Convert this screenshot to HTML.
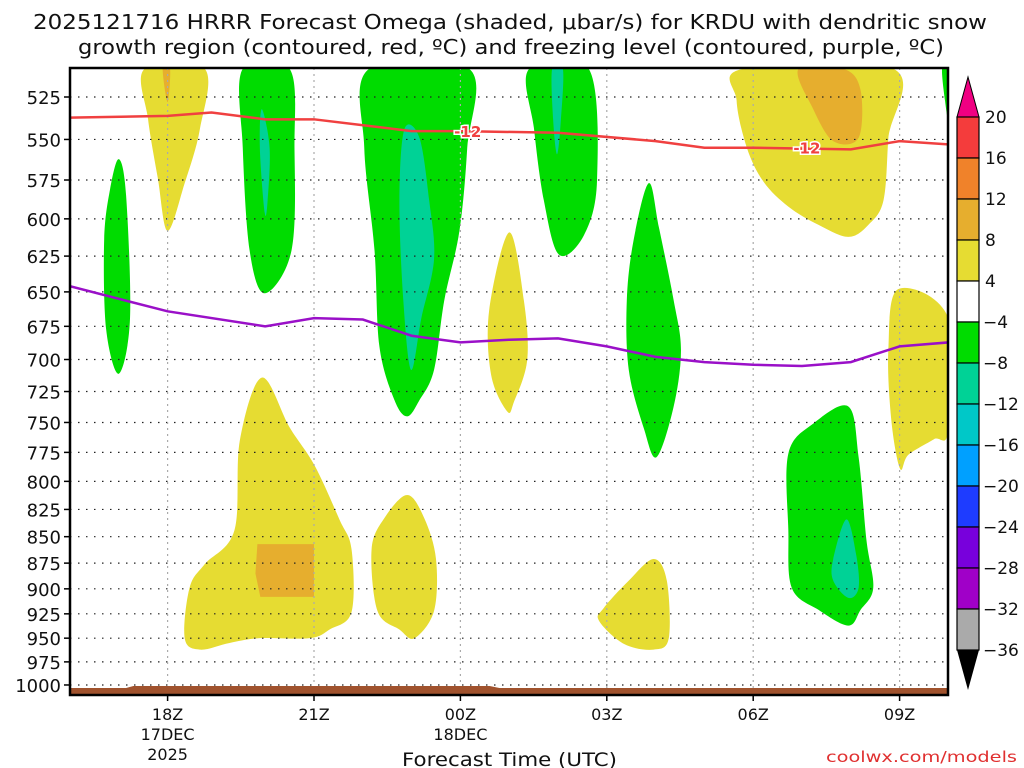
<!DOCTYPE html>
<html><head><meta charset="utf-8"><style>
html,body{margin:0;padding:0;background:#fff;}
svg{display:block;font-family:"DejaVu Sans","Liberation Sans",sans-serif;}
</style></head><body>
<svg id="chart" width="1024" height="768" viewBox="0 0 1024 768" xmlns="http://www.w3.org/2000/svg">
<rect width="1024" height="768" fill="#fff"/>
<text x="33" y="29" font-size="20" textLength="954" lengthAdjust="spacingAndGlyphs" fill="#111">2025121716 HRRR Forecast Omega (shaded, μbar/s) for KRDU with dendritic snow</text>
<text x="78" y="54" font-size="20" textLength="866" lengthAdjust="spacingAndGlyphs" fill="#111">growth region (contoured, red, ºC) and freezing level (contoured, purple, ºC)</text>
<g id="fills"></g>
<g id="grid"></g>
<g id="lines"></g>
<g id="axes"></g>
<g id="cbar"></g>
<text x="402" y="766" font-size="19" textLength="215" lengthAdjust="spacingAndGlyphs" fill="#111">Forecast Time (UTC)</text>
<text x="826" y="762" font-size="15" textLength="191" lengthAdjust="spacingAndGlyphs" fill="#e03030">coolwx.com/models</text>
</svg>
<script>
// ---- data ----
const pressureTicks = [525,550,575,600,625,650,675,700,725,750,775,800,825,850,875,900,925,950,975,1000];
const timeTickHours = [2,5,8,11,14,17];
const timeTickLabels = [["18Z","17DEC","2025"],["21Z"],["00Z","18DEC"],["03Z"],["06Z"],["09Z"]];
const freezeHours = [0,2,4,5,6,7,8,9,10,11,12,13,14,15,16,17,18];
const freezeP = [646,664,675,669,670,682,687,685,684,690,698,702,704,705,702,690,687];
const dgzHours = [0,2,2.9,4,5,7,8,10,12,13,14,16,17,18];
const dgzP = [537,536,534,538,538,545,545,546,551,555,555,556,551,553];
const cbLevels = [20,16,12,8,4,-4,-8,-12,-16,-20,-24,-28,-32,-36];
const cbColors = ["#f43c3c","#f0822a","#e6ae2e","#e6dc32","#ffffff","#00dc00","#00d296","#00c8c8","#00a0ff","#1e3cff","#7800dc","#a000c8","#aaaaaa"];
// shaded regions: [[hour, hPa], ...]
const yellowBlobs = [
 [[1.53,509],[2.76,509],[2.66,544],[2.35,577],[2.0,608],[1.8,574],[1.6,538]],
 [[13.8,509],[16.87,509],[16.77,549],[16.67,588],[16.36,604],[15.95,612],[15.34,604],[14.72,592],[14.21,576],[13.87,555],[13.66,527]],
 [[9.0,609],[9.3,656],[9.37,700],[9.1,733],[8.96,741],[8.63,712],[8.59,663]],
 [[16.97,648],[18,669],[18,756],[17.7,764],[17.18,777],[17.01,789],[16.83,748],[16.77,692]],
 [[3.93,714],[4.5,754],[5.01,786],[5.52,834],[5.77,862],[5.77,923],[5.32,941],[4.91,950],[3.89,950],[3.27,955],[2.66,962],[2.35,950],[2.45,899],[2.76,876],[3.37,844],[3.48,765]],
 [[6.91,812],[7.26,833],[7.5,871],[7.46,922],[7.06,950],[6.75,941],[6.3,922],[6.18,862],[6.44,833]],
 [[11.96,871],[12.23,892],[12.27,950],[11.96,962],[11.35,956],[10.84,932],[10.94,919],[11.45,892]]
];
const orangeBlobs = [
 [[1.9,509],[2.05,509],[2.0,528]],
 [[14.93,509],[15.85,509],[16.2,521],[16.16,549],[15.64,551],[15.23,532]]
];
const orangeBoxes = [
 [[3.84,857],[5.0,857],[5.0,908],[3.9,908],[3.8,885]]
];
const greenBlobs = [
 [[0.7,614],[0.82,581],[1.0,562],[1.15,585],[1.23,669],[1.0,711],[0.74,677]],
 [[3.54,509],[4.5,509],[4.6,555],[4.54,621],[3.99,651],[3.68,621],[3.54,555]],
 [[6.13,509],[8.18,509],[8.14,555],[7.98,608],[7.67,656],[7.46,708],[7.16,732],[6.91,745],[6.65,732],[6.34,690],[6.24,621],[6.03,555]],
 [[9.41,509],[10.63,509],[10.8,575],[10.53,611],[10.02,624],[9.71,588],[9.51,544]],
 [[17.87,509],[18,509],[18,537],[17.93,527]],
 [[11.86,577],[12.07,606],[12.37,656],[12.52,693],[12.37,737],[12.02,779],[11.76,755],[11.45,708],[11.41,656],[11.55,614]],
 [[14.72,776],[15.23,751],[15.95,737],[16.16,779],[16.32,853],[16.46,899],[16.2,921],[15.95,937],[15.34,921],[14.79,899],[14.72,844]]
];
const tealBlobs = [
 [[3.93,532],[4.09,555],[4.05,588],[3.99,596],[3.89,555]],
 [[6.85,544],[7.16,549],[7.36,588],[7.46,627],[7.2,669],[6.99,708],[6.83,656],[6.75,588]],
 [[9.88,509],[10.1,509],[10.06,538],[9.98,559],[9.9,538]],
 [[15.91,834],[16.11,867],[16.16,899],[15.95,909],[15.64,892],[15.64,871]]
];
// ---- axes ----
const X0=70, X1=948, Y0=68, YB=695;
const xs = h => X0 + h*48.8;
const ys = p => 97 + Math.log(p/525)*912.5;
const NS="http://www.w3.org/2000/svg";
function mk(tag, parent, attrs){const e=document.createElementNS(NS,tag);for(const k in attrs)e.setAttribute(k,attrs[k]);parent.appendChild(e);return e;}
function smoothPath(pts){
  const P=pts.map(([h,p])=>[xs(h),ys(p)]);const n=P.length;let d=`M${P[0][0]},${P[0][1]}`;
  for(let i=0;i<n;i++){const p0=P[(i-1+n)%n],p1=P[i],p2=P[(i+1)%n],p3=P[(i+2)%n];
    const c1=[p1[0]+(p2[0]-p0[0])/6,p1[1]+(p2[1]-p0[1])/6],c2=[p2[0]-(p3[0]-p1[0])/6,p2[1]-(p3[1]-p1[1])/6];
    d+=` C${c1[0]},${c1[1]} ${c2[0]},${c2[1]} ${p2[0]},${p2[1]}`;}
  return d+"Z";
}
function polyPath(pts){return pts.map(([h,p],i)=>(i?"L":"M")+xs(h)+","+ys(p)).join(" ")+"Z";}
const svg=document.getElementById('chart');
const defs=mk('defs',svg,{});
const cp=mk('clipPath',defs,{id:'plotclip'});
mk('rect',cp,{x:X0,y:Y0,width:X1-X0,height:YB-Y0});
const fills=document.getElementById('fills');fills.setAttribute('clip-path','url(#plotclip)');
[[yellowBlobs,"#e6dc32","yellow-region",smoothPath],[orangeBlobs,"#e6ae2e","orange-region",smoothPath],[orangeBoxes,"#e6ae2e","orange-region",polyPath],[greenBlobs,"#00dc00","green-region",smoothPath],[tealBlobs,"#00d296","teal-region",smoothPath]].forEach(([set,col,nm,fn])=>{
  set.forEach(b=>{const e=mk('path',fills,{d:fn(b),fill:col});
    
    });
});
// grid
const grid=document.getElementById('grid');
pressureTicks.forEach(p=>{const y=ys(p);
  const l=mk('line',grid,{x1:X0,x2:X1,y1:y,y2:y,stroke:"#222","stroke-width":1.2,"stroke-dasharray":"1.5,6.5"});
  
  
});
timeTickHours.forEach(h=>{const x=xs(h);
  const l=mk('line',grid,{x1:x,x2:x,y1:Y0,y2:YB,stroke:"#aaa","stroke-width":1.2,"stroke-dasharray":"2,4"});
  
  
});
// ground
const g=mk('path',grid,{d:`M${X0},688 L${xs(1.15)},688 L${xs(1.3)},686 L${xs(8.6)},686 L${xs(8.8)},688 L${X1},688 L${X1},${YB} L${X0},${YB}Z`,fill:"#a0522d"});


// lines
const lines=document.getElementById('lines');lines.setAttribute('clip-path','url(#plotclip)');
function linePath(H,P){return H.map((h,i)=>(i?"L":"M")+xs(h)+","+ys(P[i])).join(" ");}
const fz=mk('path',lines,{d:linePath(freezeHours,freezeP),fill:"none",stroke:"#9a10c8","stroke-width":2.5});


const dg=mk('path',lines,{d:linePath(dgzHours,dgzP),fill:"none",stroke:"#f04040","stroke-width":2.5});


[[8.15,545],[15.1,555]].forEach(([h,p])=>{
  const t=mk('text',lines,{x:xs(h),y:ys(p)+6,"font-size":15,"font-weight":"bold","text-anchor":"middle",fill:"#f04040",stroke:"#fff","stroke-width":3,"paint-order":"stroke"});
  t.textContent="-12";
  
  
});
// axes
const ax=document.getElementById('axes');
mk('rect',ax,{x:X0,y:Y0,width:X1-X0,height:YB-Y0,fill:"none",stroke:"#000","stroke-width":2.5});
pressureTicks.forEach(p=>{const y=ys(p);
  mk('line',ax,{x1:X0-6,x2:X0,y1:y,y2:y,stroke:"#000","stroke-width":1.5});
  const t=mk('text',ax,{x:X0-9,y:y+7,"font-size":18,"text-anchor":"end",fill:"#111"});t.textContent=p;
  
  
});
timeTickHours.forEach((h,i)=>{const x=xs(h);
  mk('line',ax,{x1:x,x2:x,y1:YB,y2:YB+6,stroke:"#000","stroke-width":1.5});
  timeTickLabels[i].forEach((s,j)=>{const t=mk('text',ax,{x:x,y:720+j*20,"font-size":16,"text-anchor":"middle",fill:"#111"});t.textContent=s;
    
    });
});
// colorbar
const cb=document.getElementById('cbar');
const CX=957, CW=22, CT=117, CS=41;
mk('path',cb,{d:`M${CX},${CT} L${CX+CW/2},${CT-40} L${CX+CW},${CT}Z`,fill:"#f00082",stroke:"#000","stroke-width":1});
cbColors.forEach((c,i)=>{const r=mk('rect',cb,{x:CX,y:CT+i*CS,width:CW,height:CS,fill:c,stroke:"#000","stroke-width":1.2});
  
  });
const bot=CT+cbColors.length*CS;
mk('path',cb,{d:`M${CX},${bot} L${CX+CW/2},${bot+40} L${CX+CW},${bot}Z`,fill:"#000"});
cbLevels.forEach((v,i)=>{const t=mk('text',cb,{x:v<0?983:985,y:CT+i*CS+6,"font-size":17,fill:"#111"});
  t.textContent=v<0?"\u2212"+(-v):String(v);
  
  });
</script>
</body></html>
